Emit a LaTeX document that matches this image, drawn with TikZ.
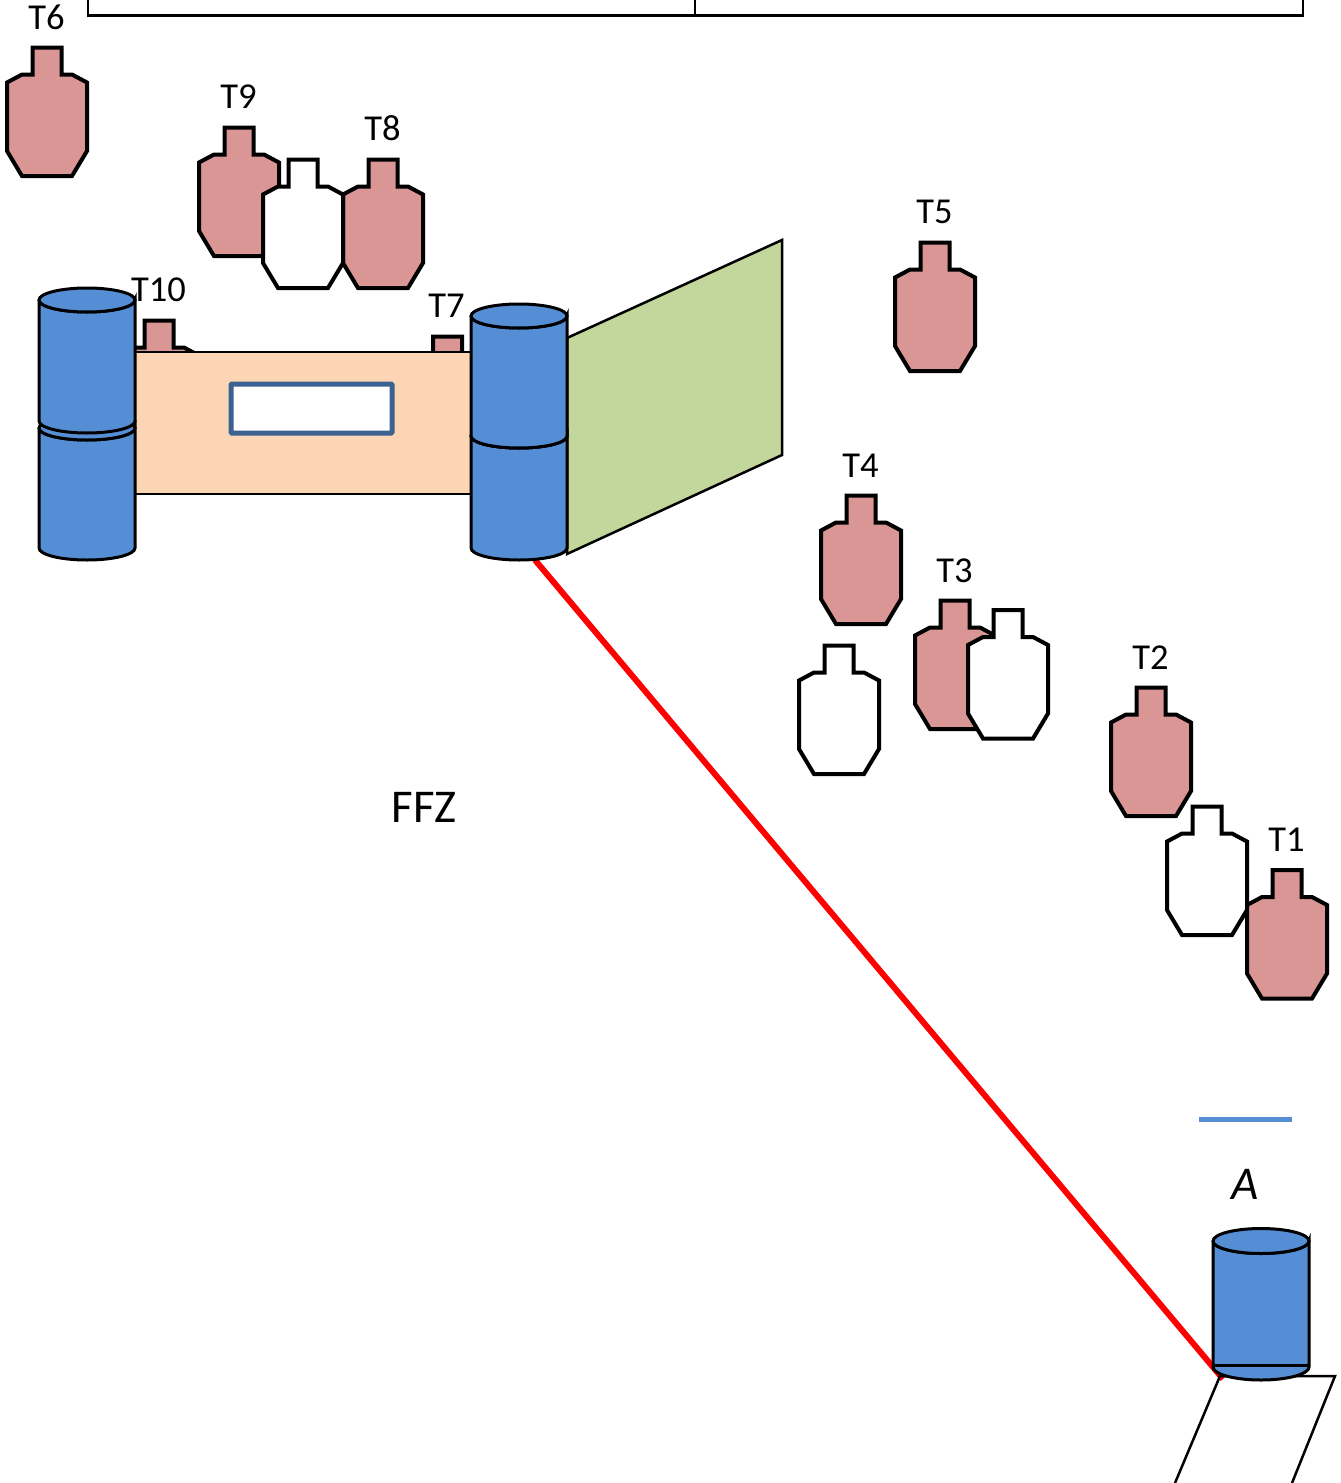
\documentclass[tikz,border=0pt]{standalone}
\usepackage{fontspec}
\setmainfont{Carlito}
\definecolor{tgtpink}{HTML}{D99694}
\definecolor{cylblue}{HTML}{558ED5}
\definecolor{wallpeach}{HTML}{FCD5B5}
\definecolor{winblue}{HTML}{3B6290}
\definecolor{panelgreen}{HTML}{C3D69B}
\tikzset{
  tgtline/.style={draw=black,line width=4pt,line join=miter},
  thinline/.style={draw=black,line width=2.5pt},
  cylline/.style={draw=black,line width=3pt,fill=cylblue},
  lbl/.style={anchor=base,inner sep=0pt,font=\fontsize{36.5}{36.5}\selectfont,text=black}
}
\newcommand{\tgt}[4]{%
  \coordinate (#1) at (#2,#3);
  \draw[tgtline,fill=#4] (#1) ++(-14.5,0) -- ++(29,0) -- ++(0,27) -- ++(10.5,0) -- ++(15,8)
    -- ++(0,68.5) -- ++(-15,25) -- ++(-50,0) -- ++(-15,-25) -- ++(0,-68.5) -- ++(15,-8) -- ++(10.5,0) -- cycle;}
\newcommand{\cyl}[6]{% name, cx, ytop, ybot, ry top, ry bottom
  \coordinate (#1) at (#2,#3);
  \draw[cylline] (#2-48,#3) -- (#2-48,#4) arc[start angle=180,end angle=0,x radius=48,y radius=#6] -- (#2+48,#3)
     arc[start angle=0,end angle=180,x radius=48,y radius=#5];
  \draw[cylline] (#2,#3) ellipse[x radius=48,y radius=#5];}
\begin{document}
\begin{tikzpicture}[x=1pt,y=-1pt]
\useasboundingbox (0,0) rectangle (1341,1483);
% top table remnant
\coordinate (tl) at (88,0); \coordinate (tbl) at (88,15.5); \coordinate (tbr) at (1303,15.5); \coordinate (tr) at (1303,0);
\coordinate (tm) at (695,0); \coordinate (tmb) at (695,15.5);
\draw[thinline] (tl) -- (tbl) -- (tbr) -- (tr);
\draw[thinline] (tm) -- (tmb);
% targets
\tgt{t6}{47}{47.5}{tgtpink}
\tgt{t9}{239}{127.5}{tgtpink}
\tgt{t8}{383}{159.5}{tgtpink}
\tgt{n1}{303}{159.5}{white}
\tgt{t5}{935}{242.5}{tgtpink}
\tgt{t4}{861}{495.5}{tgtpink}
\tgt{n2}{839}{645.5}{white}
\tgt{t3}{955}{600.5}{tgtpink}
\tgt{n3}{1008}{610}{white}
\tgt{t2}{1151}{687.5}{tgtpink}
\tgt{n4}{1207}{806.5}{white}
\tgt{t1}{1287}{870}{tgtpink}
\tgt{t10}{159}{320.5}{tgtpink}
\tgt{t7}{447.5}{336.5}{tgtpink}
% wall
\node[draw=black,line width=2.5pt,fill=wallpeach,outer sep=0pt,minimum width=336pt,minimum height=142pt,inner sep=0pt,anchor=north west] (wall) at (135,352.2) {};
\node[draw=winblue,line width=5pt,fill=white,outer sep=0pt,rounded corners=1pt,minimum width=161pt,minimum height=49pt,inner sep=0pt,anchor=north west] (win) at (231,384) {};
% green panel
\coordinate (g1) at (567,338); \coordinate (g2) at (782,240); \coordinate (g3) at (782,455); \coordinate (g4) at (567,554);
\draw[thinline,fill=panelgreen] (g1) -- (g2) -- (g3) -- (g4) -- cycle;
% red line and start box
\coordinate (r1) at (535,560); \coordinate (r2) at (1223,1379);
\draw[red,line width=6pt] (r1) -- (r2);
\coordinate (p1) at (1220,1376); \coordinate (p2) at (1335,1376); \coordinate (p3) at (1292,1483); \coordinate (p4) at (1175,1483);
\draw[thinline] (p4) -- (p1) -- (p2) -- (p3);
% cylinders
\cyl{cl2}{87}{428}{548}{12}{12}
\cyl{cl1}{87}{300}{421}{12}{12}
\cyl{cr2}{519}{436}{548}{12}{12}
\cyl{cr1}{519}{316}{436}{12}{12}
\cyl{ca}{1261}{1241}{1367}{12.5}{13}
\coordinate (cal) at (1213,1365); \coordinate (car) at (1309,1365);
\draw[draw=black,line width=3pt] (cal) -- (car);
% blue dash
\coordinate (b1) at (1199,1119.5); \coordinate (b2) at (1292,1119.5);
\draw[cylblue,line width=5pt] (b1) -- (b2);
% labels
\node[lbl] (lt6) at (46.5,29.5) {T6};
\node[lbl] (lt9) at (238.5,108.5) {T9};
\node[lbl] (lt8) at (382.5,140.5) {T8};
\node[lbl] (lt10) at (158.5,301.5) {T10};
\node[lbl] (lt7) at (446.5,317) {T7};
\node[lbl] (lt5) at (934.5,223.5) {T5};
\node[lbl] (lt4) at (860.5,477.5) {T4};
\node[lbl] (lt3) at (954.5,582.5) {T3};
\node[lbl] (lt2) at (1150.5,669.5) {T2};
\node[lbl] (lt1) at (1286.5,851) {T1};
\node[lbl,font=\fontsize{47}{47}\selectfont,text=black] (ffz) at (424,822.5) {FFZ};
\node[lbl,font=\fontsize{47}{47}\selectfont\itshape] (la) at (1245.5,1199.5) {A};
\end{tikzpicture}
\end{document}
